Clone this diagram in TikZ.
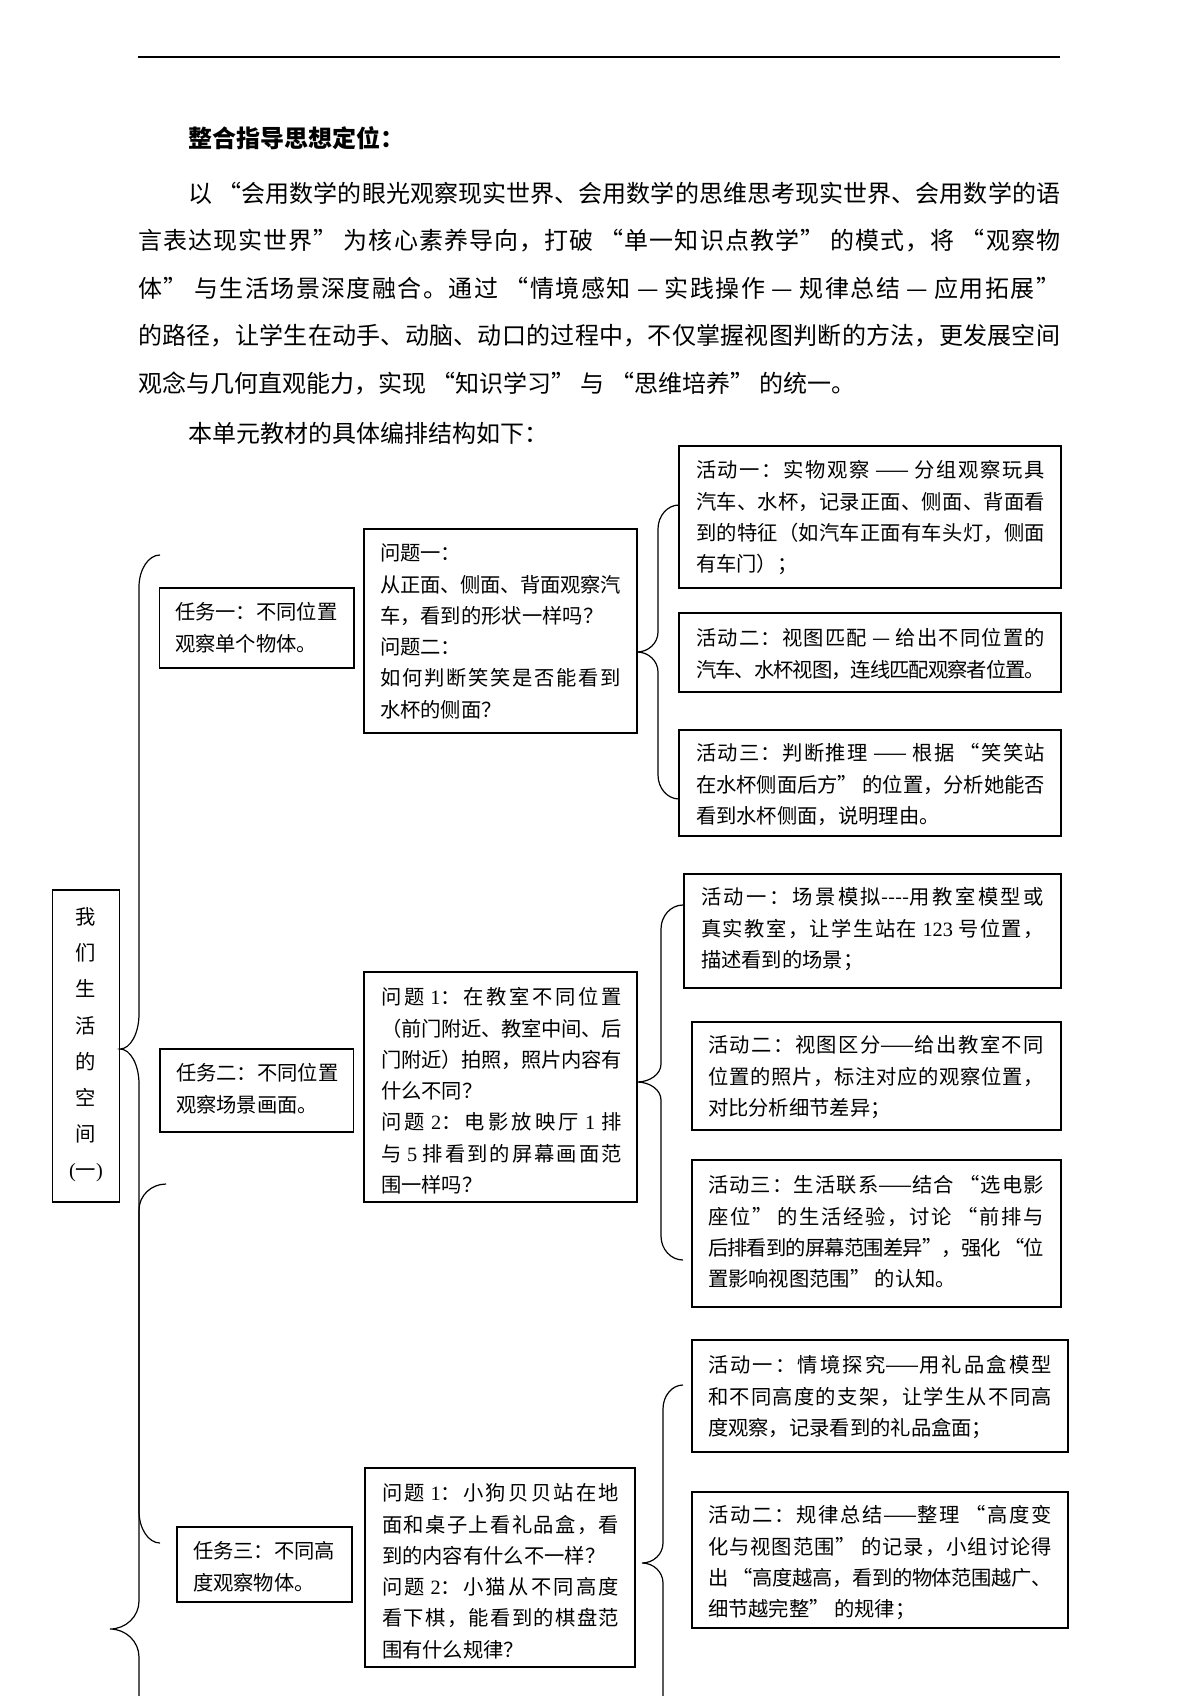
\documentclass[tikz,border=0pt]{standalone}
\usepackage{fontspec}
\IfFontExistsTF{FandolSong-Regular.otf}{%
  \setmainfont{FandolSong}[Extension=.otf, UprightFont=*-Regular, BoldFont=*-Bold]%
}{%
  \setmainfont{Noto Sans CJK SC}%
}
\newfontfamily\latfont{Liberation Serif}
% inter-character glue for CJK justification
\newcount\cjkcc
\cjkcc="3000 \loop \XeTeXcharclass\cjkcc=7 \advance\cjkcc by 1 \ifnum\cjkcc<"3040 \repeat
\cjkcc="4E00 \loop \XeTeXcharclass\cjkcc=7 \advance\cjkcc by 1 \ifnum\cjkcc<"A000 \repeat
\cjkcc="FF00 \loop \XeTeXcharclass\cjkcc=7 \advance\cjkcc by 1 \ifnum\cjkcc<"FFF0 \repeat
\XeTeXcharclass"201C=7 \XeTeXcharclass"201D=7
\XeTeXinterchartokenstate=1
\newcommand\cjkglue{\hskip 0pt plus 4pt minus 1.2pt\relax}
\XeTeXinterchartoks 7 7 = {\cjkglue}
\newcommand\lat[1]{{\latfont #1}}
\newcommand\JL[1]{\makebox[\linewidth][s]{#1}}
\newcommand\bx{\fontsize{20.3pt}{31.3pt}\selectfont}
\newcommand\bodyf{\fontsize{24pt}{47.5pt}\selectfont}
\newcommand\drawbrace[8]{% xe, yt, xv, xt, yc, yb, r, rt
  \draw[bracesty] (#1,#2) .. controls ({#1-0.55*(#1-#3)},#2) and (#3,{#2+0.45*#7}) .. (#3,{#2+#7})
   -- (#3,{#5-#8}) .. controls (#3,{#5-0.45*#8}) and ({#4+0.55*(#3-#4)},#5) .. (#4,#5)
   .. controls ({#4+0.55*(#3-#4)},#5) and (#3,{#5+0.45*#8}) .. (#3,{#5+#8})
   -- (#3,{#6-#7}) .. controls (#3,{#6-0.45*#7}) and ({#1-0.55*(#1-#3)},#6) .. (#1,#6);}
\newcommand\rbox[5]{\node[boxsty, anchor=north west, minimum width={#4-#2}, minimum height={#5-#3}] (#1) at (#2,#3) {};}
\tikzset{
  boxsty/.style={draw=black, line width=1.2pt, inner sep=0pt, outer sep=0pt},
  bracesty/.style={draw=black, line width=1.2pt},
  txt/.style={anchor=base west, inner sep=0pt, outer sep=0pt, font=\bx, text=black},
}
\begin{document}
\begin{tikzpicture}[x=1pt,y=-1pt]
\useasboundingbox[fill=white] (0,0) rectangle (1200,1696);

% header rule
\coordinate (ruleL) at (138,57);
\coordinate (ruleR) at (1060,57);
\draw[line width=1.5pt] (ruleL) -- (ruleR);

% heading and paragraph
\node[anchor=base west, inner sep=0pt] (title) at (188,147.1) {\bodyf\bfseries 整合指导思想定位：};
\node[anchor=base west, inner sep=0pt] (para) at (138,202.1) {\parbox[t]{922pt}{\bodyf
\hspace*{50pt}\makebox[872pt][s]{以 “会用数学的眼光观察现实世界、会用数学的思维思考现实世界、会用数学的语}\\
\JL{言表达现实世界” 为核心素养导向，打破 “单一知识点教学” 的模式，将 “观察物}\\
\JL{体” 与生活场景深度融合。通过 “情境感知 — 实践操作 — 规律总结 — 应用拓展”}\\
\JL{的路径，让学生在动手、动脑、动口的过程中，不仅掌握视图判断的方法，更发展空间}\\
观念与几何直观能力，实现 “知识学习” 与 “思维培养” 的统一。}};
\node[anchor=base west, inner sep=0pt] (intro) at (188,442.1) {\bodyf 本单元教材的具体编排结构如下：};

% main box
\rbox{main}{52.6}{890}{119.5}{1202}
\node[anchor=base, inner sep=0pt] (maintxt) at (86,924.7) {\parbox[t]{40pt}{\fontsize{20.3pt}{36.1pt}\selectfont\centering 我\\们\\生\\活\\的\\空\\间\\\lat{(}一\lat{)}}};

% left braces
\drawbrace{160}{555}{139}{120}{1049}{1543}{32}{35}
\drawbrace{166}{1184}{139}{110}{1629}{2074}{26}{28}

% ---------- section 1 ----------
\rbox{task1}{159.5}{588}{354}{668}
\node[txt] (task1t) at (175,619.7) {\parbox[t]{175pt}{任务一：不同位置\\观察单个物体。}};
\rbox{q1}{364}{529}{637}{733}
\node[txt] (q1t) at (380,560.7) {\parbox[t]{241pt}{问题一：\\
\JL{从正面、侧面、背面观察汽}\\
车，看到的形状一样吗？\\
问题二：\\
\JL{如何判断笑笑是否能看到}\\
水杯的侧面？}};
\drawbrace{679}{505}{658}{637}{652}{799}{24}{20}
\rbox{a11}{679}{446}{1061}{588}
\node[txt] (a11t) at (696,477.7) {\parbox[t]{349pt}{\JL{活动一：实物观察 —— 分组观察玩具}\\
\JL{汽车、水杯，记录正面、侧面、背面看}\\
\JL{到的特征（如汽车正面有车头灯，侧面}\\
有车门）；}};
\rbox{a12}{679}{613}{1061}{692}
\node[txt] (a12t) at (696,645.7) {\parbox[t]{349pt}{\JL{活动二：视图匹配 — 给出不同位置的}\\
\JL{汽车、水杯视图，连线匹配观察者位置。}}};
\rbox{a13}{679}{730}{1061}{836}
\node[txt] (a13t) at (696,760.7) {\parbox[t]{349pt}{\JL{活动三：判断推理 —— 根据 “笑笑站}\\
\JL{在水杯侧面后方” 的位置，分析她能否}\\
看到水杯侧面，说明理由。}};

% ---------- section 2 ----------
\rbox{task2}{160}{1049}{353.5}{1132}
\node[txt] (task2t) at (176,1080.7) {\parbox[t]{175pt}{任务二：不同位置\\观察场景画面。}};
\rbox{q2}{364}{972}{637}{1202}
\node[txt] (q2t) at (381,1004.7) {\parbox[t]{241pt}{\JL{问题 \lat{1}：在教室不同位置}\\
\JL{（前门附近、教室中间、后}\\
\JL{门附近）拍照，照片内容有}\\
什么不同？\\
\JL{问题 \lat{2}：电影放映厅 \lat{1} 排}\\
\JL{与 \lat{5} 排看到的屏幕画面范}\\
围一样吗？}};
\drawbrace{683}{905}{661}{637}{1082}{1260}{24}{18}
\rbox{a21}{684}{874}{1061}{988}
\node[txt] (a21t) at (701,904.7) {\parbox[t]{343pt}{\JL{活动一：场景模拟-{}-{}-{}-用教室模型或}\\
\JL{真实教室，让学生站在 \lat{123} 号位置，}\\
描述看到的场景；}};
\rbox{a22}{692}{1022}{1061}{1130}
\node[txt] (a22t) at (708,1052.7) {\parbox[t]{336pt}{\JL{活动二：视图区分——给出教室不同}\\
\JL{位置的照片，标注对应的观察位置，}\\
对比分析细节差异；}};
\rbox{a23}{692}{1160}{1061}{1307}
\node[txt] (a23t) at (708,1192.7) {\parbox[t]{336pt}{\JL{活动三：生活联系——结合 “选电影}\\
\JL{座位” 的生活经验，讨论 “前排与}\\
\JL{后排看到的屏幕范围差异”，强化 “位}\\
置影响视图范围” 的认知。}};

% ---------- section 3 ----------
\rbox{task3}{177}{1527}{352}{1602}
\node[txt] (task3t) at (193,1558.7) {\parbox[t]{160pt}{任务三：不同高\\度观察物体。}};
\rbox{q3}{365}{1468}{635}{1667}
\node[txt] (q3t) at (382,1500.7) {\parbox[t]{237pt}{\JL{问题 \lat{1}：小狗贝贝站在地}\\
\JL{面和桌子上看礼品盒，看}\\
到的内容有什么不一样？\\
\JL{问题 \lat{2}：小猫从不同高度}\\
\JL{看下棋，能看到的棋盘范}\\
围有什么规律？}};
\drawbrace{683}{1385}{663}{642}{1563}{1741}{24}{20}
\rbox{a31}{692}{1340}{1068}{1452}
\node[txt] (a31t) at (708,1372.7) {\parbox[t]{344pt}{\JL{活动一：情境探究——用礼品盒模型}\\
\JL{和不同高度的支架，让学生从不同高}\\
度观察，记录看到的礼品盒面；}};
\rbox{a32}{692}{1492}{1068}{1628}
\node[txt] (a32t) at (708,1522.7) {\parbox[t]{344pt}{\JL{活动二：规律总结——整理 “高度变}\\
\JL{化与视图范围” 的记录，小组讨论得}\\
\JL{出 “高度越高，看到的物体范围越广、}\\
细节越完整” 的规律；}};
\end{tikzpicture}
\end{document}
